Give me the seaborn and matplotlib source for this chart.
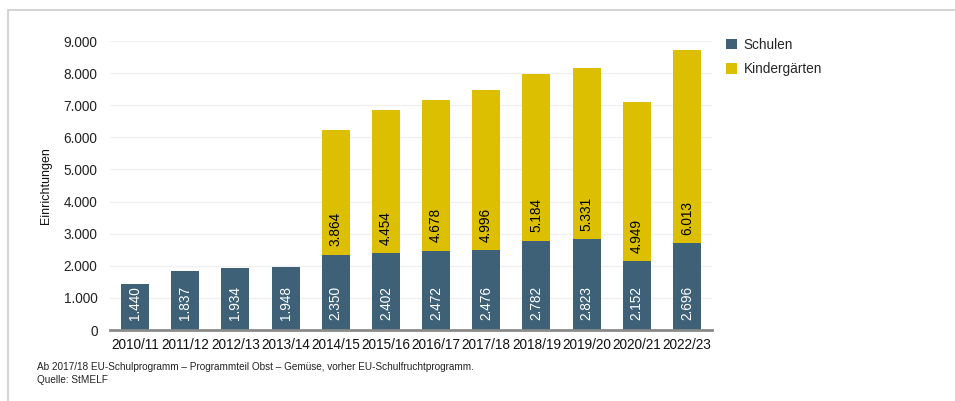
import numpy as np
import pandas as pd
import seaborn as sns
import matplotlib.pyplot as plt
from matplotlib.patches import Rectangle

# Einrichtungen im EU-Schulprogramm (Bayern)
jahre = ["2010/11", "2011/12", "2012/13", "2013/14", "2014/15", "2015/16",
         "2016/17", "2017/18", "2018/19", "2019/20", "2020/21", "2022/23"]
schulen = [1440, 1837, 1934, 1948, 2350, 2402, 2472, 2476, 2782, 2823, 2152, 2696]
kindergaerten = [0, 0, 0, 0, 3864, 4454, 4678, 4996, 5184, 5331, 4949, 6013]

yticks = [0, 1000, 2000, 3000, 4000, 5000, 6000, 7000, 8000, 9000]

blau = "#3e6178"
gelb = "#dcbf00"

sns.set_style("white")
plt.rcParams['font.family'] = ['Liberation Sans', 'DejaVu Sans']

df = pd.DataFrame({"Jahr": jahre, "Schulen": schulen, "Kindergärten": kindergaerten})
df["Gesamt"] = df["Schulen"] + df["Kindergärten"]

def fmt(v):
    return f"{v:,}".replace(",", ".")

fig = plt.figure(figsize=(9.55, 4.01), dpi=100)
ax = fig.add_axes([110/955, 1-330/401, 602/955, 289/401])

# gestapelt: erst Summe (gelb), dann Schulen drueber
sns.barplot(data=df, x="Jahr", y="Gesamt", color=gelb, width=0.56,
            linewidth=0, saturation=1, ax=ax, label="Kindergärten")
sns.barplot(data=df, x="Jahr", y="Schulen", color=blau, width=0.56,
            linewidth=0, saturation=1, ax=ax, label="Schulen")

for i, (s, k) in enumerate(zip(schulen, kindergaerten)):
    ax.annotate(fmt(s), xy=(i, 0), xytext=(0, 7), textcoords="offset points",
                rotation=90, ha="center", va="bottom", color="white", fontsize=9.8)
    if k > 0:
        ax.annotate(fmt(k), xy=(i, s), xytext=(0, 6), textcoords="offset points",
                    rotation=90, ha="center", va="bottom", color="black", fontsize=9.8)

ax.set_xlim(-0.5, len(jahre) - 0.5)
ax.set_ylim(0, 9000)
ax.set_yticks(yticks)
ax.set_yticklabels([fmt(v) for v in yticks])
ax.yaxis.grid(True, color="#f0f0f0", linewidth=1)
ax.set_axisbelow(True)
for sp in ["top", "right", "left"]:
    ax.spines[sp].set_visible(False)
ax.spines["bottom"].set_color("#8a8a8a")
ax.spines["bottom"].set_linewidth(2)
ax.tick_params(axis="x", length=0, pad=6, labelsize=9.8, labelcolor="#111111")
ax.tick_params(axis="y", length=0, pad=9, labelsize=9.8, labelcolor="#222222")
ax.set_xlabel("")
ax.set_ylabel("Einrichtungen", fontsize=9, color="#111111")
ax.yaxis.set_label_coords(-0.097, 0.5)

h, l = ax.get_legend_handles_labels()
order = [l.index("Schulen"), l.index("Kindergärten")]
ax.legend([h[j] for j in order], [l[j] for j in order],
          loc="upper left", bbox_to_anchor=(726/955, 1-38/401), bbox_transform=fig.transFigure,
          frameon=False, fontsize=9.8, handlelength=0.8, handleheight=0.8,
          handletextpad=0.5, labelspacing=0.75, borderaxespad=0, borderpad=0)

fig.text(37/955, 1-367/401, "Ab 2017/18 EU-Schulprogramm – Programmteil Obst – Gemüse, vorher EU-Schulfruchtprogramm.",
         fontsize=7.2, color="#222222", va="center")
fig.text(37/955, 1-380/401, "Quelle: StMELF", fontsize=7.2, color="#222222", va="center")

# Rahmen
fig.patches.append(Rectangle((8/955, -0.1), 1.1, 1 - 10/401 + 0.1, transform=fig.transFigure,
                             fill=False, edgecolor="#cccccc", linewidth=1.2))

fig.savefig("out.png", dpi=100)
